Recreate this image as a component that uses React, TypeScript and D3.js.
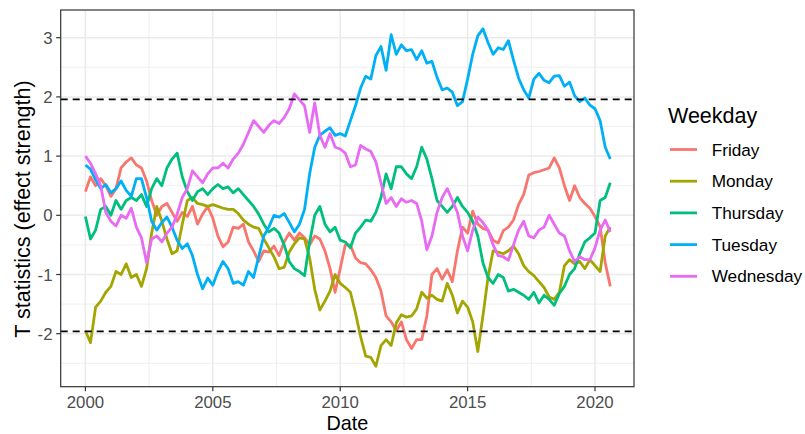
import React from "react";
import * as d3 from "d3";

const WIDTH = 805;
const HEIGHT = 434;

// ---- data ----
const weekdays = ["Friday", "Monday", "Thursday", "Tuesday", "Wednesday"];
const colors = ["#F8766D", "#A3A500", "#00BF7D", "#00B0F6", "#E76BF3"];
const xTicks = [2000, 2005, 2010, 2015, 2020];
const xMinorTicks = [2002.5, 2007.5, 2012.5, 2017.5];
const yTicks = [-2, -1, 0, 1, 2, 3];
const yMinorTicks = [-2.5, -1.5, -0.5, 0.5, 1.5, 2.5];
const criticalValues = [-1.96, 1.96];
const startYear = 2000;
const stepYears = 0.2;

const friday = [
  0.4, 0.65, 0.5, 0.62, 0.5, 0.32, 0.45, 0.8, 0.9, 0.97,
  0.85, 0.8, 0.58, 0.25, 0.0, 0.15, 0.2, 0.05, -0.1, 0.05,
  -0.02, 0.15, -0.15, 0.02, 0.15, -0.05, -0.35, -0.53, -0.45, -0.2,
  -0.22, -0.15, -0.45, -0.6, -0.78, -0.6, -0.62, -0.52, -0.68, -0.45,
  -0.3, -0.42, -0.3, -0.38, -0.5, -0.35, -0.4, -0.6, -0.9, -1.3,
  -0.9, -0.5, -0.5, -0.72, -0.8, -0.82, -0.92, -1.05, -1.28, -1.7,
  -1.8, -1.95, -1.8, -2.1, -2.25, -2.1, -2.1, -1.7, -1.0, -0.9,
  -1.08, -0.92, -1.12, -0.6, -0.2, -0.3, 0.07, -0.15, -0.22, -0.25,
  -0.42, -0.47, -0.26, -0.2, -0.08, 0.18, 0.35, 0.68, 0.72, 0.74,
  0.77, 0.8, 0.97, 0.8, 0.5, 0.25, 0.5, 0.3, 0.2, 0.12,
  -0.02, -0.19, -0.8, -1.2,
];

const monday = [
  -1.95, -2.15, -1.55, -1.45, -1.3, -1.2, -0.95, -1.0, -0.82, -1.05,
  -1.0, -1.2, -0.9, -0.3, 0.15, -0.1, -0.4, -0.65, -0.6, -0.15,
  0.25, 0.3, 0.2, 0.18, 0.15, 0.18, 0.15, 0.12, 0.1, 0.1,
  0.03, -0.08, -0.15, -0.2, -0.22, -0.4, -0.55, -0.7, -0.9, -0.88,
  -0.62, -0.48, -0.38, -0.4, -0.72, -1.25, -1.6, -1.45, -1.28, -1.0,
  -1.15, -1.22, -1.3, -1.65, -2.05, -2.38, -2.4, -2.55, -2.2, -2.1,
  -2.2, -1.82, -1.68, -1.72, -1.7, -1.58, -1.3, -1.4, -1.35, -1.42,
  -1.45, -1.15, -1.35, -1.65, -1.45, -1.55, -1.8, -2.3, -1.7, -1.05,
  -0.6, -0.62, -0.65, -0.6, -0.52, -0.65, -0.85, -0.95, -1.02, -1.12,
  -1.22, -1.38, -1.42, -1.3, -0.85, -0.75, -0.82, -0.78, -0.9, -0.75,
  -0.85, -0.95, -0.35, -0.2,
];

const thursday = [
  -0.02, -0.4, -0.25, 0.1, 0.15, 0.0, 0.25, 0.1, 0.25, 0.3,
  0.25, 0.35, 0.15, 0.45, 0.62, 0.5, 0.8, 0.95, 1.05, 0.65,
  0.4, 0.25, 0.4, 0.45, 0.35, 0.45, 0.52, 0.45, 0.48, 0.38,
  0.45, 0.35, 0.25, 0.15, 0.02, -0.15, -0.28, -0.22, -0.3, -0.5,
  -0.78, -0.9, -0.95, -1.02, -0.45, 0.0, 0.15, -0.15, -0.28, -0.2,
  -0.42, -0.45, -0.55, -0.3, -0.2, -0.08, -0.1, 0.05, 0.3, 0.7,
  0.45, 0.82, 0.82, 0.7, 0.62, 0.82, 1.15, 0.95, 0.62, 0.25,
  0.15, 0.05, 0.15, 0.3, 0.15, 0.05, -0.1, -0.35, -0.8, -1.05,
  -1.15, -1.0, -1.05, -1.28, -1.25, -1.3, -1.35, -1.42, -1.3, -1.48,
  -1.35, -1.42, -1.52, -1.32, -1.2, -1.0, -0.9, -0.65, -0.45, -0.38,
  -0.3, 0.25, 0.3, 0.55,
];

const tuesday = [
  0.85, 0.78, 0.6, 0.45, 0.52, 0.38, 0.45, 0.58, 0.42, 0.32,
  0.62, 0.62, 0.3, -0.1, -0.25, -0.12, -0.03, -0.2, -0.42, -0.56,
  -0.48, -0.68, -1.0, -1.24, -1.06, -1.18, -0.95, -0.78, -0.9, -1.15,
  -1.12, -1.18, -0.95, -1.05, -0.7, -0.35, -0.2, 0.0, -0.03, 0.03,
  -0.12, -0.28, -0.15, 0.1, 0.7, 1.15, 1.35, 1.42, 1.48, 1.35,
  1.38, 1.34, 1.6, 1.85, 2.15, 2.35, 2.3, 2.7, 2.85, 2.45,
  3.05, 2.72, 2.88, 2.78, 2.8, 2.63, 2.78, 2.57, 2.6, 2.33,
  2.12, 2.15, 2.08, 1.85, 1.92, 2.3, 2.72, 3.03, 3.15, 2.92,
  2.72, 2.83, 2.8, 2.95, 2.62, 2.32, 2.12, 1.98, 2.3, 2.4,
  2.28, 2.24, 2.35, 2.36, 2.18, 2.25, 2.02, 1.92, 1.98, 1.86,
  1.8, 1.6, 1.15, 0.95,
];

const wednesday = [
  1.0, 0.88, 0.7, 0.5, 0.05, -0.1, -0.18, 0.0, -0.05, 0.12,
  -0.2, -0.38, -0.8, -0.4, -0.35, -0.45, -0.3, -0.2, 0.02, 0.3,
  0.45, 0.75, 0.65, 0.55, 0.7, 0.8, 0.8, 0.88, 0.8, 0.95,
  1.05, 1.2, 1.4, 1.6, 1.5, 1.4, 1.52, 1.6, 1.55, 1.65,
  1.8, 2.05, 1.95, 1.85, 1.4, 1.9, 1.35, 1.15, 1.38, 1.15,
  1.12, 1.05, 0.82, 0.85, 1.18, 1.12, 1.08, 0.9, 0.55, 0.2,
  0.3, 0.15, 0.28, 0.22, 0.25, 0.2, -0.1, -0.58, -0.35, 0.05,
  0.3, 0.45, 0.25, 0.05, -0.35, -0.6, -0.25, -0.03, -0.12, -0.25,
  -0.5, -0.68, -0.7, -0.76, -0.5, -0.25, -0.1, -0.35, -0.38, -0.25,
  -0.2, 0.0, -0.15, -0.3, -0.35, -0.6, -0.78, -0.7, -0.75, -0.75,
  -0.55, -0.25, -0.08, -0.28,
];

const seriesValues = [friday, monday, thursday, tuesday, wednesday];

// ---- layout ----
const panel = { left: 60.7, right: 634, top: 10, bottom: 386.7 };
const xDomain = [1999.03, 2021.53];
const yDomain = [-2.895, 3.468];
const FONT = "'Liberation Sans', Arial, Helvetica, sans-serif";

export default function App() {
  const x = d3.scaleLinear().domain(xDomain).range([panel.left, panel.right]);
  const y = d3.scaleLinear().domain(yDomain).range([panel.bottom, panel.top]);

  const line = d3
    .line<[number, number]>()
    .x((d) => x(d[0]))
    .y((d) => y(d[1]));

  const series = weekdays.map((name, k) => ({
    name,
    color: colors[k],
    points: seriesValues[k].map((v, i) => [startYear + i * stepYears, v] as [number, number]),
  }));

  const legendX = 668;
  const legendKeyY = [149.5, 181.2, 212.9, 244.6, 276.3];

  return (
    <div style={{ position: "fixed", left: 0, top: 0 }}>
      <svg width={WIDTH} height={HEIGHT} style={{ display: "block", background: "#fff" }} fontFamily={FONT}>
        <defs>
          <clipPath id="panelClip">
            <rect x={panel.left} y={panel.top} width={panel.right - panel.left} height={panel.bottom - panel.top} />
          </clipPath>
        </defs>
        <rect x={0} y={0} width={WIDTH} height={HEIGHT} fill="#fff" />
        {/* minor grid */}
        {xMinorTicks.map((t) => (
          <line key={"xm" + t} x1={x(t)} x2={x(t)} y1={panel.top} y2={panel.bottom} stroke="#EBEBEB" strokeWidth={0.8} />
        ))}
        {yMinorTicks.map((t) => (
          <line key={"ym" + t} x1={panel.left} x2={panel.right} y1={y(t)} y2={y(t)} stroke="#EBEBEB" strokeWidth={0.8} />
        ))}
        {/* major grid */}
        {xTicks.map((t) => (
          <line key={"xg" + t} x1={x(t)} x2={x(t)} y1={panel.top} y2={panel.bottom} stroke="#EBEBEB" strokeWidth={1.5} />
        ))}
        {yTicks.map((t) => (
          <line key={"yg" + t} x1={panel.left} x2={panel.right} y1={y(t)} y2={y(t)} stroke="#EBEBEB" strokeWidth={1.5} />
        ))}

        {/* series */}
        <g clipPath="url(#panelClip)">
          {series.map((s) => (
            <path
              key={s.name}
              d={line(s.points) || ""}
              fill="none"
              stroke={s.color}
              strokeWidth={2.8}
              strokeLinejoin="round"
              strokeLinecap="butt"
            />
          ))}
        </g>

        {/* critical value lines */}
        {criticalValues.map((c) => (
          <line
            key={"c" + c}
            x1={panel.left}
            x2={panel.right}
            y1={y(c)}
            y2={y(c)}
            stroke="#000"
            strokeWidth={1.8}
            strokeDasharray="7,5"
          />
        ))}

        {/* panel border */}
        <rect
          x={panel.left}
          y={panel.top}
          width={panel.right - panel.left}
          height={panel.bottom - panel.top}
          fill="none"
          stroke="#333333"
          strokeWidth={1.2}
        />

        {/* axes ticks */}
        {xTicks.map((t) => (
          <g key={"xt" + t}>
            <line x1={x(t)} x2={x(t)} y1={panel.bottom} y2={panel.bottom + 4.5} stroke="#333333" strokeWidth={1.2} />
            <text x={x(t)} y={408} textAnchor="middle" fontSize={16.8} fill="#4D4D4D">
              {t}
            </text>
          </g>
        ))}
        {yTicks.map((t) => (
          <g key={"yt" + t}>
            <line x1={panel.left - 4.5} x2={panel.left} y1={y(t)} y2={y(t)} stroke="#333333" strokeWidth={1.2} />
            <text x={52.5} y={y(t)} dy="0.36em" textAnchor="end" fontSize={16.8} fill="#4D4D4D">
              {t}
            </text>
          </g>
        ))}

        {/* axis titles */}
        <text x={(panel.left + panel.right) / 2} y={430} textAnchor="middle" fontSize={19.8} fill="#000">
          Date
        </text>
        <text
          transform={`translate(30, 209) rotate(-90)`}
          textAnchor="middle"
          fontSize={21.5}
          fill="#000"
        >
          T statistics (effect strength)
        </text>

        {/* legend */}
        <text x={legendX} y={123} fontSize={21.5} fill="#000">
          Weekday
        </text>
        {series.map((s, k) => (
          <g key={"lg" + s.name}>
            <line x1={670} x2={697} y1={legendKeyY[k]} y2={legendKeyY[k]} stroke={s.color} strokeWidth={2.8} />
            <text x={711.7} y={legendKeyY[k]} dy="0.36em" fontSize={17.2} fill="#000">
              {s.name}
            </text>
          </g>
        ))}
      </svg>
    </div>
  );
}
